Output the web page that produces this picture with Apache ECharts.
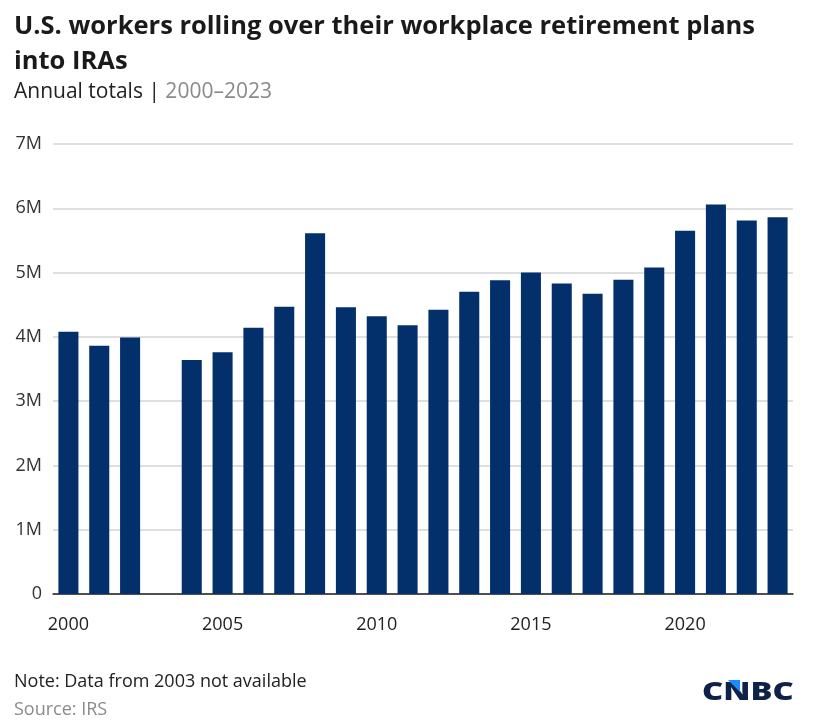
<!DOCTYPE html>
<html>
<head>
<meta charset="utf-8">
<script src="https://cdn.jsdelivr.net/npm/echarts@6/dist/echarts.min.js"></script>
<style>
  html, body { margin: 0; padding: 0; background: #fff; }
  #chart { width: 813px; height: 728px; }
</style>
</head>
<body>
<div id="chart"></div>
<script>
// years 2000-2023, 2003 missing (no data)
const years = ['2000','2001','2002','2003','2004','2005','2006','2007','2008','2009','2010','2011',
               '2012','2013','2014','2015','2016','2017','2018','2019','2020','2021','2022','2023'];
// rollovers, millions
const rollovers = [4.08, 3.86, 3.99, null, 3.64, 3.76, 4.14, 4.47, 5.61, 4.46, 4.32, 4.18,
                   4.42, 4.70, 4.88, 5.00, 4.83, 4.67, 4.89, 5.08, 5.65, 6.06, 5.81, 5.86];
const yTicks = [0, 1, 2, 3, 4, 5, 6, 7];

const font = '"Open Sans", Lato, sans-serif';
const navy = '#03306b';

var myChart = echarts.init(document.getElementById('chart'));
const option = {
    animation: false,
    textStyle: { fontFamily: font },
    grid: { left: 53, right: 20, top: 144, bottom: 134 },
    graphic: [
        { type: 'text', left: 14, top: 9,
          style: { text: 'U.S. workers rolling over their workplace retirement plans\ninto IRAs',
                   font: 'bold 25.5px ' + font, fill: '#1a1a1a', lineHeight: 35 } },
        { type: 'text', left: 14, top: 82,
          style: { text: '{a|Annual totals | }{b|2000–2023}',
                   rich: { a: { font: '21px ' + font, fill: '#222' },
                           b: { font: '21px ' + font, fill: '#8a8a8a' } } } },
        { type: 'text', left: 14, top: 673,
          style: { text: 'Note: Data from 2003 not available', font: '18px ' + font, fill: '#222' } },
        { type: 'text', left: 14, top: 701,
          style: { text: 'Source: IRS', font: '18px ' + font, fill: '#8a8a8a' } },
        // CNBC wordmark
        { type: 'text', x: 702, y: 681, scaleX: 1.36,
          style: { text: 'CNBC', font: '800 24px ' + font, fill: '#0e2148' } },
        { type: 'polygon', z: 10,
          shape: { points: [[728, 680], [740, 680], [740, 692]] },
          style: { fill: '#1b8cff' } }
    ],
    xAxis: {
        type: 'category',
        data: years,
        boundaryGap: true,
        axisLine: { lineStyle: { color: '#222', width: 1.5 } },
        axisTick: {
            alignWithLabel: true, length: 7,
            interval: (i) => i % 5 === 0,
            lineStyle: { color: '#222', width: 1.5 }
        },
        axisLabel: {
            interval: (i) => i % 5 === 0,
            margin: 22, fontSize: 18, color: '#222', fontFamily: font
        }
    },
    yAxis: {
        type: 'value',
        min: yTicks[0], max: yTicks[yTicks.length - 1], interval: 1,
        axisLine: { show: false },
        axisTick: { show: false },
        axisLabel: {
            fontSize: 18, color: '#333', margin: 11, fontFamily: font,
            formatter: (v) => v === 0 ? '0' : v + 'M'
        },
        splitLine: { lineStyle: { color: '#d4d4d4', width: 1.5 } }
    },
    series: [{
        type: 'bar',
        data: rollovers,
        barWidth: '65%',
        itemStyle: { color: navy }
    }]
};
myChart.setOption(option);
</script>
</body>
</html>
